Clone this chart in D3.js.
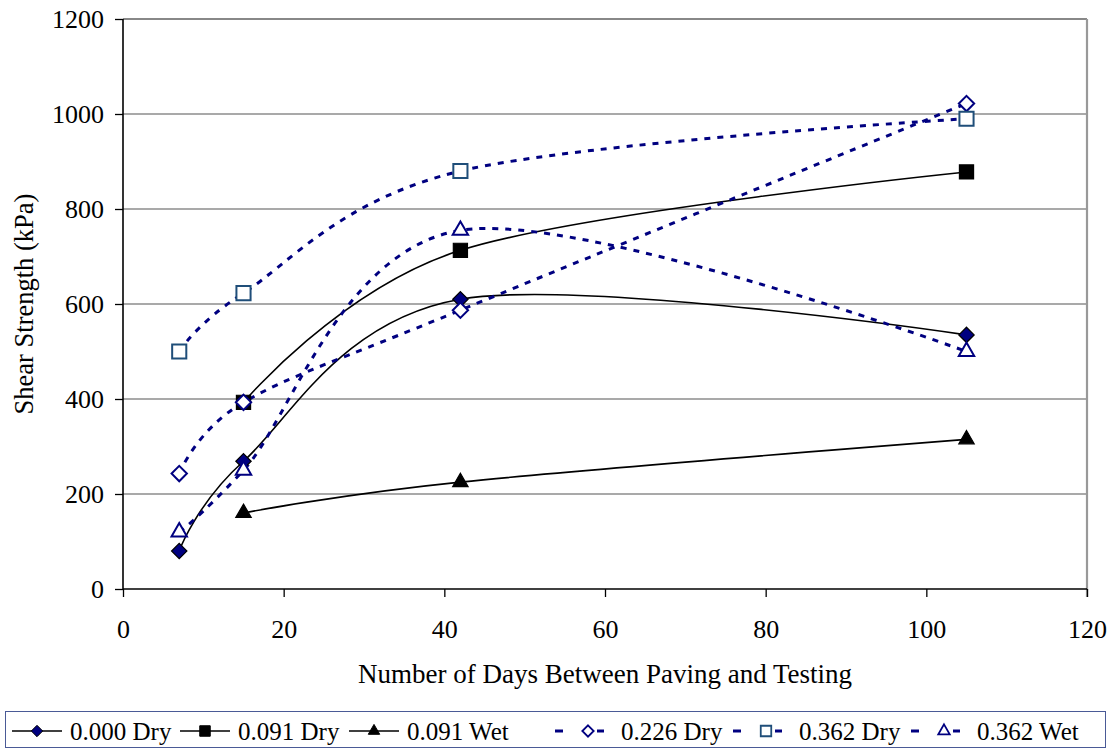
<!DOCTYPE html>
<html>
<head>
<meta charset="utf-8">
<script src="https://cdn.jsdelivr.net/npm/d3@7"></script>
<style>
  html, body { margin: 0; padding: 0; background: #fff; }
  svg { display: block; }
  text { font-family: "Liberation Serif", "Times New Roman", serif; fill: #000; }
</style>
</head>
<body>
<svg id="chart" width="1113" height="748"></svg>
<script>
// Shear strength vs. curing age, by emulsion rate and surface condition
const days = [7, 15, 42, 105];
const seriesNames = ["0.000 Dry", "0.091 Dry", "0.091 Wet", "0.226 Dry", "0.362 Dry", "0.362 Wet"];
const s000Dry = [80, 269, 610, 535];
const s091Dry = [null, 393, 713, 878];
const s091Wet = [null, 160, 225, 315];
const s226Dry = [243, 393, 587, 1022];
const s362Dry = [500, 623, 880, 990];
const s362Wet = [120, 250, 755, 500];
const xTicks = [0, 20, 40, 60, 80, 100, 120];
const yTicks = [0, 200, 400, 600, 800, 1000, 1200];

const svg = d3.select("#chart");
const margin = { left: 123, right: 1087, top: 19, bottom: 589 };

const x = d3.scaleLinear().domain([0, 120]).range([margin.left, margin.right]);
const y = d3.scaleLinear().domain([0, 1200]).range([margin.bottom, margin.top]);

const NAVY = "#000080";
const styles = [
  { values: s000Dry, line: "#000", dash: null, width: 1.6, shape: "diamond", fill: NAVY, stroke: "#000" },
  { values: s091Dry, line: "#000", dash: null, width: 1.6, shape: "square", fill: "#000", stroke: "#000" },
  { values: s091Wet, line: "#000", dash: null, width: 1.6, shape: "triangle", fill: "#000", stroke: "#000" },
  { values: s226Dry, line: NAVY, dash: "6,7", width: 3, shape: "diamond", fill: "#fff", stroke: NAVY },
  { values: s362Dry, line: NAVY, dash: "6,7", width: 3, shape: "square", fill: "#fff", stroke: "#1f4e79" },
  { values: s362Wet, line: NAVY, dash: "6,7", width: 3, shape: "triangle", fill: "#fff", stroke: NAVY }
];

// Horizontal gridlines
svg.append("g")
  .selectAll("line")
  .data(yTicks.filter(v => v > 0))
  .join("line")
  .attr("x1", margin.left).attr("x2", margin.right)
  .attr("y1", d => y(d)).attr("y2", d => y(d))
  .attr("stroke", d => d === 1200 ? "#888" : "#555")
  .attr("stroke-width", d => d === 1200 ? 2 : 1.2);

// Right edge of the plot area
svg.append("line")
  .attr("x1", margin.right).attr("x2", margin.right)
  .attr("y1", margin.top).attr("y2", margin.bottom + 8)
  .attr("stroke", "#999").attr("stroke-width", 2.2);

// Axes
const yAxis = d3.axisLeft(y).tickValues(yTicks).tickSize(8).tickPadding(11).tickFormat(d3.format("d"));
const xAxis = d3.axisBottom(x).tickValues(xTicks).tickSize(8).tickPadding(23).tickFormat(d3.format("d"));

const gy = svg.append("g").attr("transform", `translate(${margin.left},0)`).call(yAxis);
const gx = svg.append("g").attr("transform", `translate(0,${margin.bottom})`).call(xAxis);
[gx, gy].forEach(g => {
  g.select(".domain").attr("stroke", "#000").attr("stroke-width", 1.6);
  g.selectAll(".tick line").attr("stroke", "#000").attr("stroke-width", 1.3);
  g.selectAll(".tick text")
    .attr("font-family", '"Liberation Serif", "Times New Roman", serif')
    .attr("font-size", 26).attr("fill", "#000");
});
gy.select(".domain").attr("d", `M0,${margin.top}V${margin.bottom}`);
gx.select(".domain").attr("d", `M${margin.left},0H${margin.right}`);

// Axis titles
svg.append("text")
  .attr("x", (margin.left + margin.right) / 2).attr("y", 683)
  .attr("text-anchor", "middle").attr("font-size", 27)
  .text("Number of Days Between Paving and Testing");
svg.append("text")
  .attr("transform", `translate(33,${(margin.top + margin.bottom) / 2}) rotate(-90)`)
  .attr("text-anchor", "middle").attr("font-size", 26.5)
  .text("Shear Strength (kPa)");

// Marker symbol generator
function markerPath(shape, scale) {
  const k = scale || 1;
  if (shape === "diamond") return d3.symbol(d3.symbolDiamond2, 150 * k)();
  if (shape === "square") return d3.symbol(d3.symbolSquare, 200 * k)();
  return d3.symbol(d3.symbolTriangle2, 170 * k)();
}
function markerStrokeWidth(s) { return s.fill === "#fff" ? 2 : 1.2; }

// Series lines (smoothed) and markers
const lineGen = d3.line()
  .defined(d => d.v != null)
  .x(d => x(d.day)).y(d => y(d.v))
  .curve(d3.curveCardinal.tension(0));

styles.forEach(s => {
  const pts = days.map((day, i) => ({ day, v: s.values[i] })).filter(d => d.v != null);
  svg.append("path")
    .datum(pts)
    .attr("d", lineGen)
    .attr("fill", "none")
    .attr("stroke", s.line)
    .attr("stroke-width", s.width)
    .attr("stroke-dasharray", s.dash);
});
styles.forEach(s => {
  const pts = days.map((day, i) => ({ day, v: s.values[i] })).filter(d => d.v != null);
  svg.append("g").selectAll("path")
    .data(pts)
    .join("path")
    .attr("transform", d => `translate(${x(d.day)},${y(d.v)})`)
    .attr("d", markerPath(s.shape))
    .attr("fill", s.fill)
    .attr("stroke", s.stroke)
    .attr("stroke-width", markerStrokeWidth(s));
});

// Legend
const legend = svg.append("g");
legend.append("rect")
  .attr("x", 5.5).attr("y", 711.5).attr("width", 1100).attr("height", 36)
  .attr("fill", "#fff").attr("stroke", "#4a5a96").attr("stroke-width", 1);

const legendMarkerX = [37, 205, 374, 588, 766, 944];
const legendY = 731;
styles.forEach((s, i) => {
  const g = legend.append("g").attr("transform", `translate(${legendMarkerX[i]},${legendY})`);
  if (s.dash) {
    [[-33, -25], [9, 16]].forEach(([a, b]) => {
      g.append("line").attr("x1", a).attr("x2", b).attr("stroke", s.line).attr("stroke-width", s.width);
    });
  } else {
    g.append("line").attr("x1", -25).attr("x2", 25).attr("stroke", s.line).attr("stroke-width", 1.6);
  }
  g.append("path")
    .attr("d", markerPath(s.shape, 0.55))
    .attr("fill", s.fill).attr("stroke", s.stroke).attr("stroke-width", s.fill === "#fff" ? 1.8 : 1);
  g.append("text")
    .attr("x", 33).attr("y", 9)
    .attr("font-size", 25)
    .text(seriesNames[i]);
});
</script>
</body>
</html>
